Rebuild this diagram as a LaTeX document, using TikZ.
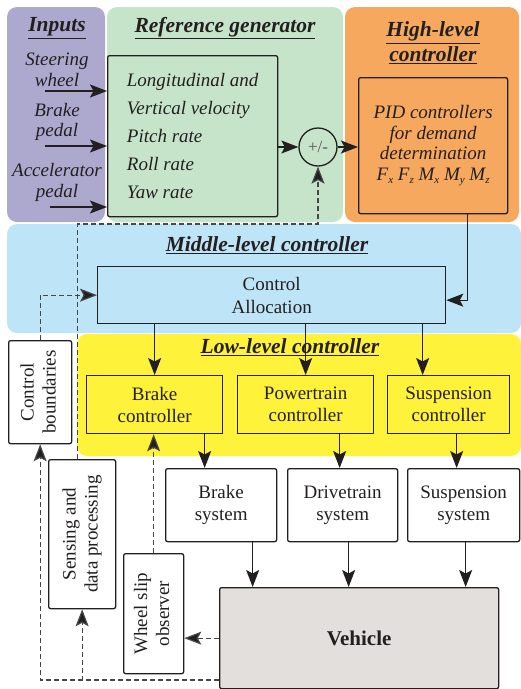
\documentclass[tikz,border=0pt]{standalone}
\usepackage{fontspec}
\setmainfont{Liberation Serif}
\usetikzlibrary{arrows.meta,calc}
\definecolor{cpurple}{RGB}{173,168,206}
\definecolor{cgreen}{RGB}{198,228,202}
\definecolor{corange}{RGB}{245,168,94}
\definecolor{cblue}{RGB}{190,229,247}
\definecolor{cyellow}{RGB}{255,242,58}
\definecolor{cgray}{RGB}{226,223,221}
\definecolor{cline}{RGB}{35,31,32}
\definecolor{cdash}{RGB}{70,70,72}
\newcommand\fsN{\fontsize{19}{22}\selectfont}
\newcommand\fsT{\fontsize{21.5}{25}\selectfont\bfseries\itshape}
\newcommand\vsub[2]{\textit{#1}\raisebox{-0.35ex}{\fontsize{11}{11}\selectfont\textit{#2}}}
\begin{document}
\begin{tikzpicture}[x=1pt,y=-1pt,
  box/.style={draw=cline, line width=1.3pt, rounded corners=2pt, inner sep=0pt, font=\fsN, align=center, text=cline},
  title/.style={font=\fsT, align=center, text=cline, inner sep=0pt},
  itx/.style={font=\fsN\itshape, text=cline, inner sep=0pt, anchor=base},
  tip/.style={arrows={-Stealth[length=17pt,width=13pt,inset=3.5pt]}},
  arr/.style={draw=cline, line width=1.2pt, tip},
  darr/.style={draw=cdash, line width=1.2pt, dash pattern=on 5pt off 3pt, arrows={-Stealth[length=17pt,width=13pt,inset=3.5pt,fill=cline]}}]
\useasboundingbox (0,0) rectangle (521,689);
% regions
\fill[cpurple, rounded corners=10pt] (7,7) rectangle (105,222);
\fill[cgreen, rounded corners=10pt] (107,7) rectangle (343,222);
\fill[corange, rounded corners=10pt] (345,7) rectangle (519,222);
\fill[cblue, rounded corners=10pt] (7,224) rectangle (521,333);
\fill[cyellow, rounded corners=10pt] (77,334) rectangle (521,456);
% titles
\node[title] (tin) at (57,28) {\underline{Inputs}};
\node[title] (tref) at (225,28) {\underline{Reference generator}};
\node[title] (thigh) at (433,43) {\underline{High-level}\\\underline{controller}};
\node[title] (tmid) at (267,245) {\underline{Middle-level controller}};
\node[title] (tlow) at (290,347) {\underline{Low-level controller}};
% inputs
\node[itx] (i1a) at (57,65) {Steering};
\node[itx] (i1b) at (57,86) {wheel};
\node[itx] (i2a) at (57,116) {Brake};
\node[itx] (i2b) at (57,136) {pedal};
\node[itx] (i3a) at (57,176) {Accelerator};
\node[itx] (i3b) at (57,197) {pedal};
\coordinate (in1) at (45,91);
\coordinate (in2) at (45,146);
\coordinate (in3) at (50,207);
% boxes
\node[box, fill=cgreen, minimum width=170pt, minimum height=161pt, anchor=north west, font=\fontsize{19}{28}\selectfont\itshape, align=left] (ref) at (107,55)
  {Longitudinal and\\Vertical velocity\\Pitch rate\\Roll rate\\Yaw rate};
\node[circle, draw=cline, line width=1.3pt, minimum size=38pt, inner sep=0pt, font=\fontsize{17}{17}\selectfont, text=cline!75] (sum) at (318,147) {+/-};
\node[box, fill=corange, minimum width=149pt, minimum height=136pt, anchor=north west, font=\fontsize{19}{20.5}\selectfont\itshape] (pid) at (358,77)
  {PID controllers\\for demand\\determination\\\vsub{F}{x} \vsub{F}{z} \vsub{M}{x} \vsub{M}{y} \vsub{M}{z}};
\node[box, fill=cblue, rounded corners=0pt, minimum width=348pt, minimum height=57pt, anchor=north west, font=\fontsize{19}{23}\selectfont] (ca) at (97,266) {Control\\Allocation};
\node[box, fill=cyellow, rounded corners=0pt, minimum width=136pt, minimum height=58pt, anchor=north west] (bc) at (86,375) {Brake\\controller};
\node[box, fill=cyellow, rounded corners=0pt, minimum width=136pt, minimum height=58pt, anchor=north west] (pc) at (237,375) {Powertrain\\controller};
\node[box, fill=cyellow, rounded corners=0pt, minimum width=122pt, minimum height=58pt, anchor=north west] (sc) at (387,375) {Suspension\\controller};
\node[box, fill=white, minimum width=111pt, minimum height=73pt, anchor=north west] (bs) at (165,468) {Brake\\system};
\node[box, fill=white, minimum width=110pt, minimum height=73pt, anchor=north west] (ds) at (287,468) {Drivetrain\\system};
\node[box, fill=white, minimum width=112pt, minimum height=73pt, anchor=north west] (ss) at (407,468) {Suspension\\system};
\node[box, fill=cgray, minimum width=279pt, minimum height=101pt, anchor=north west, font=\fontsize{21}{24}\selectfont\bfseries] (veh) at (219,587) {Vehicle};
\node[box, fill=white, minimum width=63pt, minimum height=103pt, anchor=north west] (cb) at (8,340)
  {\rotatebox{90}{\begin{tabular}{@{}c@{}}Control\\boundaries\end{tabular}}};
\node[box, fill=white, minimum width=67pt, minimum height=149pt, anchor=north west] (sens) at (48,459)
  {\rotatebox{90}{\begin{tabular}{@{}c@{}}Sensing and\\data processing\end{tabular}}};
\node[box, fill=white, minimum width=60pt, minimum height=120pt, anchor=north west] (ws) at (123,553)
  {\rotatebox{90}{\begin{tabular}{@{}c@{}}Wheel slip\\observer\end{tabular}}};
% solid connectors
\draw[arr] (in1) -- (in1 -| ref.west);
\draw[arr] (in2) -- (in2 -| ref.west);
\draw[arr] (in3) -- (in3 -| ref.west);
\draw[arr] (sum.west -| ref.east) -- (sum.west);
\draw[arr] (sum.east) -- (sum.east -| pid.west);
\draw[arr] ([xshift=34.5pt]pid.south) |- ([yshift=-5pt]ca.east);
\draw[arr] (bc.north |- ca.south) -- (bc.north);
\draw[arr] (pc.north |- ca.south) -- (pc.north);
\path ([xshift=-26pt]sc.north) coordinate (sck);
\draw[arr] (sck |- ca.south) -- (sck);
\path ([xshift=50pt]bc.south) coordinate (b1);
\path ([xshift=34pt]pc.south) coordinate (b2);
\path ([xshift=8pt]sc.south) coordinate (b3);
\draw[arr] (b1) -- (b1 |- bs.north);
\draw[arr] (b2) -- (b2 |- ds.north);
\draw[arr] (b3) -- (b3 |- ss.north);
\path ([xshift=31.5pt]bs.south) coordinate (s1);
\path ([xshift=6pt]ds.south) coordinate (s2);
\path ([xshift=2pt]ss.south) coordinate (s3);
\draw[arr] (s1) -- (s1 |- veh.north);
\draw[arr] (s2) -- (s2 |- veh.north);
\draw[arr] (s3) -- (s3 |- veh.north);
% dashed connectors
\coordinate (fbk) at (0,224);
\coordinate (vby) at (0,680);
\path ([xshift=-4.5pt]sens.north) coordinate (sn);
\draw[darr] (sn) |- (sum.south |- fbk) -- (sum.south);
\draw[darr] (cb.north) |- (ca.west);
\draw[darr] (veh.west |- vby) -| (cb.south);
\draw[darr] (veh.west |- vby) -| (sens.south);
\draw[darr] (veh.west) -- (veh.west -| ws.east);
\draw[darr] (ws.north) -- (ws.north |- bc.south);
\end{tikzpicture}
\end{document}
